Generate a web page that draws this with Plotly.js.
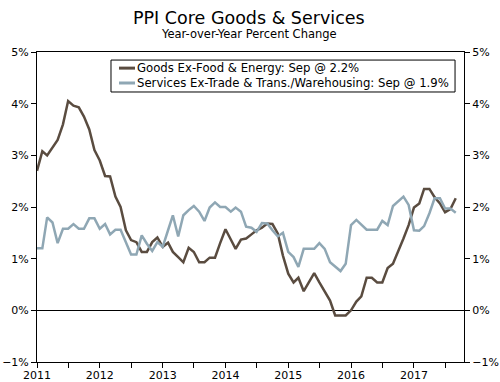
<!DOCTYPE html>
<html><head><meta charset="utf-8">
<script src="https://cdn.plot.ly/plotly-3.0.1.min.js"></script>
<style>html,body{margin:0;padding:0;background:#fff}#chart{width:500px;height:382px}</style>
</head><body><div id="chart"></div>
<script>
const startYear = 2011;
const chartTitle = "PPI Core Goods & Services";
const chartSubtitle = "Year-over-Year Percent Change";
const goodsName = "Goods Ex-Food & Energy: Sep @ 2.2%";
const servicesName = "Services Ex-Trade & Trans./Warehousing: Sep @ 1.9%";
const goods = [
  2.7, 3.08, 3.0, 3.15, 3.3, 3.6, 4.05, 3.96, 3.93, 3.75, 3.5, 3.1,
  2.9, 2.6, 2.59, 2.2, 2.0, 1.55, 1.36, 1.32, 1.13, 1.13, 1.32, 1.41,
  1.23, 1.31, 1.13, 1.03, 0.93, 1.21, 1.13, 0.93, 0.93, 1.02, 1.02, 1.3,
  1.57, 1.37, 1.19, 1.37, 1.39, 1.47, 1.55, 1.6, 1.68, 1.67, 1.49, 1.06,
  0.71, 0.54, 0.63, 0.37, 0.54, 0.72, 0.54, 0.37, 0.19, -0.1, -0.1, -0.1,
  0.0, 0.17, 0.27, 0.63, 0.63, 0.54, 0.54, 0.82, 0.9, 1.13, 1.39, 1.65,
  1.99, 2.07, 2.35, 2.35, 2.19, 2.07, 1.9, 1.96, 2.17
];
const services = [
  1.2, 1.2, 1.8, 1.7, 1.3, 1.58, 1.58, 1.67, 1.58, 1.58, 1.78, 1.78,
  1.58, 1.67, 1.47, 1.56, 1.56, 1.3, 1.08, 1.08, 1.45, 1.29, 1.15, 1.32,
  1.23, 1.55, 1.84, 1.43, 1.84, 1.94, 2.02, 1.91, 1.73, 1.99, 2.09, 2.0,
  2.0, 1.91, 1.99, 1.91, 1.62, 1.6, 1.52, 1.69, 1.68, 1.55, 1.43, 1.5,
  1.13, 1.03, 0.84, 1.19, 1.19, 1.19, 1.3, 1.19, 0.93, 0.85, 0.76, 0.9,
  1.65, 1.75, 1.65, 1.56, 1.56, 1.56, 1.73, 1.65, 2.02, 2.1, 2.2, 2.04,
  1.55, 1.54, 1.63, 1.88, 2.17, 2.17, 1.97, 1.97, 1.89
];
const yearTicks = ["2011","2012","2013","2014","2015","2016","2017"];

function monthDates(n){
  const out=[];
  for(let i=0;i<n;i++){
    const y=startYear+Math.floor(i/12), m=(i%12)+1;
    out.push(y+"-"+String(m).padStart(2,"0")+"-01");
  }
  return out;
}
const dates = monthDates(goods.length);
const tickvals=[], ticktext=[];
yearTicks.forEach(y=>{ tickvals.push(y+"-01-01"); ticktext.push(y); tickvals.push(y+"-07-01"); ticktext.push(""); });

const font = "DejaVu Sans, Verdana, sans-serif";
const goodsColor = "#5a4c40", servicesColor = "#8fa7b4";
const data = [
  {x: dates, y: goods, name: goodsName, type: "scatter", mode: "lines",
   line: {color: goodsColor, width: 2.5}, showlegend: false},
  {x: dates, y: services, name: servicesName, type: "scatter", mode: "lines",
   line: {color: servicesColor, width: 2.5}, showlegend: false},
  {x: [], y: [], yaxis: "y2", showlegend: false, hoverinfo: "skip"}
];

// custom legend (paper coordinates)
const lg = {x0: 0.1733, x1: 0.979, y0: 0.871, y1: 0.974, sx0: 0.192, sx1: 0.2295, rows: [0.948, 0.9]};
const legendItems = [[goodsName, goodsColor], [servicesName, servicesColor]];
const shapes = [
  {type: "rect", xref: "paper", yref: "paper", x0: lg.x0, x1: lg.x1, y0: lg.y0, y1: lg.y1,
   line: {color: "#000", width: 1}, fillcolor: "#fff", layer: "above"}
];
const annotations = [
  {text: chartTitle, xref: "paper", yref: "paper", x: 0.497, y: 1.1097, xanchor: "center", yanchor: "middle",
   showarrow: false, font: {family: font, size: 17.5, color: "#000"}},
  {text: chartSubtitle, xref: "paper", yref: "paper", x: 0.497, y: 1.058, xanchor: "center", yanchor: "middle",
   showarrow: false, font: {family: font, size: 11.5, color: "#000"}}
];
legendItems.forEach((it, i) => {
  shapes.push({type: "line", xref: "paper", yref: "paper", x0: lg.sx0, x1: lg.sx1, y0: lg.rows[i], y1: lg.rows[i],
               line: {color: it[1], width: 3}, layer: "above"});
  annotations.push({text: it[0], xref: "paper", yref: "paper", x: lg.sx1, y: lg.rows[i], xanchor: "left", yanchor: "middle",
                    showarrow: false, font: {family: font, size: 11.7, color: "#000"}});
});

const layout = {
  width: 500, height: 382,
  margin: {l: 37, r: 36, t: 52, b: 20},
  paper_bgcolor: "#fff", plot_bgcolor: "#fff",
  font: {family: font, size: 11, color: "#000"},
  showlegend: false,
  shapes: shapes,
  annotations: annotations,
  xaxis: {type: "date", range: ["2011-01-01", "2017-10-19"],
          tickmode: "array", tickvals: tickvals, ticktext: ticktext,
          ticks: "outside", ticklen: 5, tickcolor: "#000", tickwidth: 1,
          ticklabelstandoff: -2,
          showline: true, linecolor: "#000", linewidth: 1, mirror: true,
          showgrid: false, zeroline: false, tickfont: {size: 11}},
  yaxis: {range: [-1, 5], dtick: 1, ticksuffix: "%", ticks: "outside", ticklen: 5,
          tickcolor: "#000", showline: true, linecolor: "#000", linewidth: 1,
          showgrid: false, zeroline: true, zerolinecolor: "#000", zerolinewidth: 1,
          tickfont: {size: 11}},
  yaxis2: {range: [-1, 5], dtick: 1, ticksuffix: "%", ticks: "outside", ticklen: 5,
           tickcolor: "#000", showline: true, linecolor: "#000", linewidth: 1,
           overlaying: "y", side: "right", showgrid: false, zeroline: false,
           tickfont: {size: 11}}
};
Plotly.newPlot("chart", data, layout, {displayModeBar: false, staticPlot: true});
</script></body></html>
